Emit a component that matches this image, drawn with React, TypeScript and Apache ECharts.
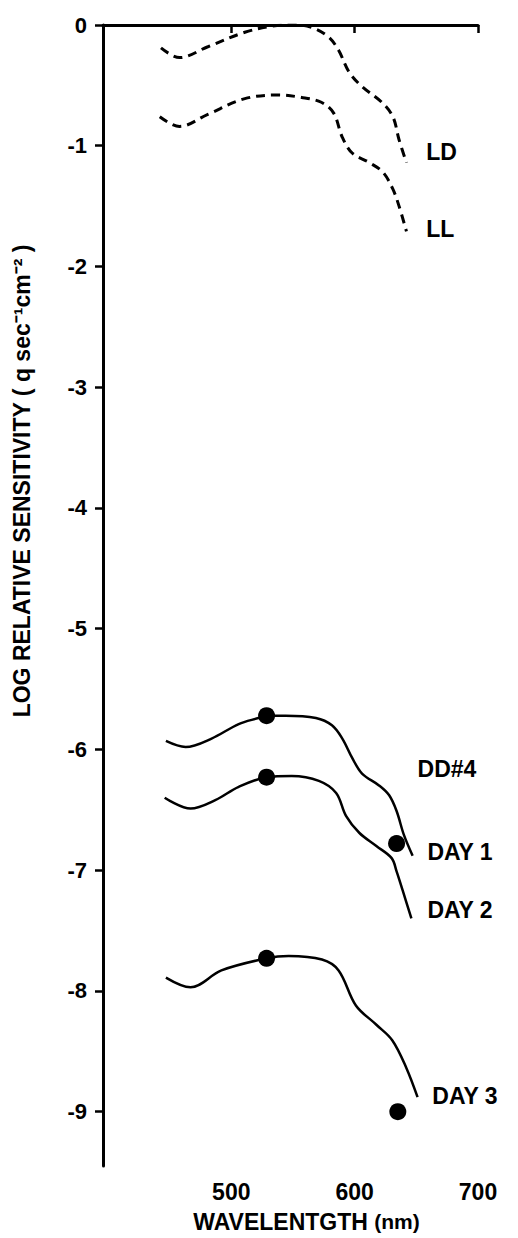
import React, { useEffect, useRef } from "react";
import * as echarts from "echarts";

// Wavelength (nm) and log relative sensitivity
const ldWl = [443, 458, 481, 511, 533, 552, 565, 579, 587, 595.5, 606, 622, 631, 636, 642];
const ldVal = [-0.19, -0.27, -0.18, -0.06, -0.01, 0, -0.02, -0.1, -0.21, -0.39, -0.51, -0.64, -0.76, -0.95, -1.14];

const llWl = [442, 458, 481, 511, 538, 557, 573, 583, 590, 598, 612, 623, 631, 636, 642];
const llVal = [-0.76, -0.84, -0.74, -0.61, -0.58, -0.6, -0.64, -0.73, -0.93, -1.06, -1.14, -1.22, -1.36, -1.5, -1.71];

const day1Wl = [447, 463, 484, 506, 522, 528.6, 544, 568.6, 581.6, 590, 598, 606, 620, 628, 634, 640, 647];
const day1Val = [-5.93, -5.98, -5.91, -5.79, -5.74, -5.72, -5.72, -5.74, -5.8, -5.91, -6.07, -6.2, -6.3, -6.38, -6.51, -6.71, -6.88];

const day2Wl = [446, 467, 487, 506, 528.6, 549, 571, 585, 593, 603.7, 617.6, 630, 634, 639, 646];
const day2Val = [-6.4, -6.49, -6.42, -6.31, -6.23, -6.22, -6.26, -6.36, -6.55, -6.69, -6.8, -6.9, -7.01, -7.17, -7.4];

const day3Wl = [447, 467, 492, 528.6, 546.5, 573.5, 587, 601, 617.6, 630.6, 642, 651];
const day3Val = [-7.89, -7.97, -7.83, -7.73, -7.71, -7.74, -7.83, -8.12, -8.28, -8.41, -8.64, -8.88];

const dotWl = [528.6, 528.6, 528.6, 634, 635];
const dotVal = [-5.72, -6.23, -7.73, -6.78, -9.0];

const labelNames = ["LD", "LL", "DD#4", "DAY 1", "DAY 2", "DAY 3"];
const labelWl = [658, 658, 651, 659, 659, 663];
const labelVal = [-1.05, -1.69, -6.16, -6.85, -7.33, -8.87];

const yTicks = [0, -1, -2, -3, -4, -5, -6, -7, -8, -9];
const xTicks = [500, 600, 700];

const FONT = "Liberation Sans, Arial, Helvetica, sans-serif";

function pairs(xs: number[], ys: number[]) {
  return xs.map((x, i) => [x, ys[i]]);
}

export default function App() {
  const ref = useRef<HTMLDivElement>(null);
  useEffect(() => {
    if (!ref.current) return;
    const chart = echarts.init(ref.current, undefined, { renderer: "svg" });
    const lineBase = { type: "line", showSymbol: false, symbol: "none", smooth: 0.35, silent: true };
    chart.setOption({
      animation: false,
      backgroundColor: "#ffffff",
      grid: { left: 103, right: 40, top: 25, bottom: 70, containLabel: false },
      xAxis: {
        type: "value",
        min: 396,
        max: 700,
        name: "{a|WAVELENTGTH} {b|(nm)}",
        nameLocation: "middle",
        nameGap: 44,
        nameTextStyle: {
          color: "#000",
          fontSize: 23,
          fontWeight: "bold",
          fontFamily: FONT,
          padding: [0, 0, 0, 32],
          rich: {
            a: { color: "#000", fontSize: 23, fontWeight: "bold", fontFamily: FONT },
            b: { color: "#000", fontSize: 21, fontWeight: "bold", fontFamily: FONT },
          },
        },
        axisLine: { show: true, lineStyle: { color: "#000", width: 3 } },
        axisTick: { show: true, customValues: xTicks, length: 8, lineStyle: { color: "#000", width: 2.5 } },
        axisLabel: { customValues: xTicks, color: "#000", fontSize: 23, fontWeight: "bold", fontFamily: FONT, margin: 14 },
        splitLine: { show: false },
      },
      yAxis: {
        type: "value",
        min: -9.45,
        max: 0,
        axisLine: { show: true, lineStyle: { color: "#000", width: 3 } },
        axisTick: { show: true, customValues: yTicks, length: 8, lineStyle: { color: "#000", width: 2.5 } },
        axisLabel: { customValues: yTicks, color: "#000", fontSize: 22, fontWeight: "bold", fontFamily: FONT, margin: 16 },
        splitLine: { show: false },
      },
      graphic: [
        {
          type: "text",
          x: 22,
          y: 481,
          rotation: Math.PI / 2,
          style: {
            text: "LOG RELATIVE SENSITIVITY ( q sec⁻¹cm⁻² )",
            fill: "#000",
            font: `bold 23px ${FONT}`,
            align: "center",
            verticalAlign: "middle",
          },
        },
      ],
      series: [
        { ...lineBase, name: "LD", data: pairs(ldWl, ldVal), lineStyle: { color: "#000", width: 3, type: [9, 6] } },
        { ...lineBase, name: "LL", data: pairs(llWl, llVal), lineStyle: { color: "#000", width: 3, type: [9, 6] } },
        { ...lineBase, name: "DAY 1", data: pairs(day1Wl, day1Val), lineStyle: { color: "#000", width: 2.5 } },
        { ...lineBase, name: "DAY 2", data: pairs(day2Wl, day2Val), lineStyle: { color: "#000", width: 2.5 } },
        { ...lineBase, name: "DAY 3", data: pairs(day3Wl, day3Val), lineStyle: { color: "#000", width: 2.5 } },
        {
          type: "scatter",
          name: "points",
          data: pairs(dotWl, dotVal),
          symbol: "circle",
          symbolSize: 17,
          itemStyle: { color: "#000", opacity: 1 },
          silent: true,
          z: 5,
        },
        {
          type: "scatter",
          name: "labels",
          data: labelWl.map((x, i) => ({ value: [x, labelVal[i]], name: labelNames[i] })),
          symbolSize: 0,
          silent: true,
          itemStyle: { color: "#000", opacity: 1 },
          label: {
            show: true,
            position: "right",
            distance: 0,
            formatter: (p: any) => p.name,
            color: "#000",
            opacity: 1,
            fontSize: 23,
            fontWeight: "bold",
            fontFamily: FONT,
          },
        },
      ],
    });
    return () => chart.dispose();
  }, []);
  return (
    <div
      ref={ref}
      style={{ position: "fixed", left: 0, top: 0, width: 518, height: 1238, background: "#fff" }}
    />
  );
}
